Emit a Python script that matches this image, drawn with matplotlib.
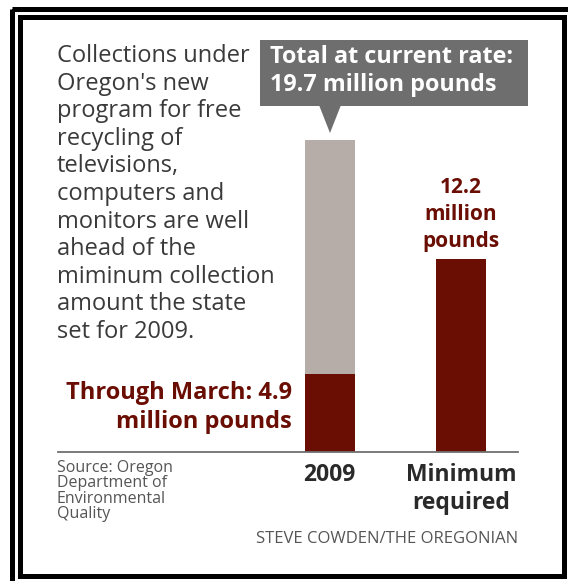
import matplotlib
matplotlib.use("Agg")
import matplotlib.pyplot as plt
from matplotlib.patches import Rectangle, Polygon
from matplotlib.transforms import Affine2D

# Dados (milhões de libras)
categorias = ["2009", "Minimum\nrequired"]
total_ritmo_atual = 19.7
ate_marco = 4.9
minimo_exigido = 12.2

texto_intro = ("Collections under\nOregon's new\nprogram for free\nrecycling of\ntelevisions,\n"
               "computers and\nmonitors are well\nahead of the\nmiminum collection\n"
               "amount the state\nset for 2009.")
texto_caixa = "Total at current rate:\n19.7 million pounds"
texto_marco = "Through March: 4.9\nmillion pounds"
texto_minimo = "12.2\nmillion\npounds"
texto_fonte = "Source: Oregon\nDepartment of\nEnvironmental\nQuality"
texto_credito = "STEVE COWDEN/THE OREGONIAN"

# Cores
VERMELHO = "#6a0e04"
CINZA_BARRA = "#b7ada8"
CINZA_CAIXA = "#6e6e6e"
TEXTO = "#3a3a3a"

plt.rcParams["font.family"] = ["Open Sans", "DejaVu Sans"]

W, H = 568, 581
fig = plt.figure(figsize=(W / 100, H / 100), dpi=100)
fig.patch.set_facecolor("white")

# transformação em pixels (y para baixo)
px = Affine2D().scale(1 / W, -1 / H).translate(0, 1) + fig.transFigure

# molduras pretas duplas
fig.patches.append(Rectangle((11.5, 8.5), 700, 700, fill=False, ec="black", lw=3.6, transform=px))
fig.patches.append(Rectangle((19.5, 16.5), 544.5, 559.5, fill=False, ec="black", lw=3.6, transform=px))

# eixo das barras: base em y=452 px, 19.7 em y=140 px
base_px, topo_px = 452, 140
esq_px, dir_px = 58, 518
c0_px, c1_px = 329.5, 461
passo = c1_px - c0_px
ax = fig.add_axes([esq_px / W, 1 - base_px / H, (dir_px - esq_px) / W, (base_px - topo_px) / H])
ax.set_xlim(-(c0_px - esq_px) / passo, 1 + (dir_px - c1_px) / passo)
ax.set_ylim(0, total_ritmo_atual)
ax.patch.set_alpha(0)

x = [0, 1]
largura = 50 / passo
ax.bar(x[0], total_ritmo_atual, largura, color=CINZA_BARRA)
ax.bar(x[0], ate_marco, largura, color=VERMELHO)
ax.bar(x[1], minimo_exigido, largura, color=VERMELHO)

for lado in ["top", "left", "right"]:
    ax.spines[lado].set_visible(False)
ax.spines["bottom"].set_color("#707070")
ax.spines["bottom"].set_linewidth(1.3)
ax.set_xticks(x)
ax.set_xticklabels(categorias, fontsize=16.5, fontweight="bold", color="#2a2a2a", linespacing=1.2)
ax.tick_params(axis="x", length=0, pad=8)
ax.set_yticks([])

# rótulo da barra mínima
ax.text(x[1], minimo_exigido + 0.45, texto_minimo, ha="center", va="bottom",
        fontsize=15, fontweight="bold", color=VERMELHO, linespacing=1.36)

# rótulo através de março
fig.text(292 / W, 1 - 381 / H, texto_marco, ha="right", va="top", fontsize=17,
         fontweight="bold", color=VERMELHO, linespacing=1.28)

# texto introdutório
fig.text(57 / W, 1 - 44 / H, texto_intro, ha="left", va="top", fontsize=17,
         color=TEXTO, linespacing=1.2)

# caixa cinza com seta
fig.patches.append(Rectangle((260, 40), 268, 66, fc=CINZA_CAIXA, ec="none", transform=px))
fig.patches.append(Polygon([(319, 105), (341, 105), (330, 133)], closed=True,
                           fc=CINZA_CAIXA, ec="none", transform=px))
fig.text(270 / W, 1 - 45 / H, texto_caixa, ha="left", va="top", fontsize=16.8,
         fontweight="bold", color="white", linespacing=1.2)

# fonte e crédito
fig.text(57 / W, 1 - 460 / H, texto_fonte, ha="left", va="top", fontsize=11.5,
         color="#555555", linespacing=0.95)
fig.text(518 / W, 1 - 543 / H, texto_credito, ha="right", va="baseline", fontsize=12,
         color="#555555")

fig.savefig("out.png", dpi=100)
